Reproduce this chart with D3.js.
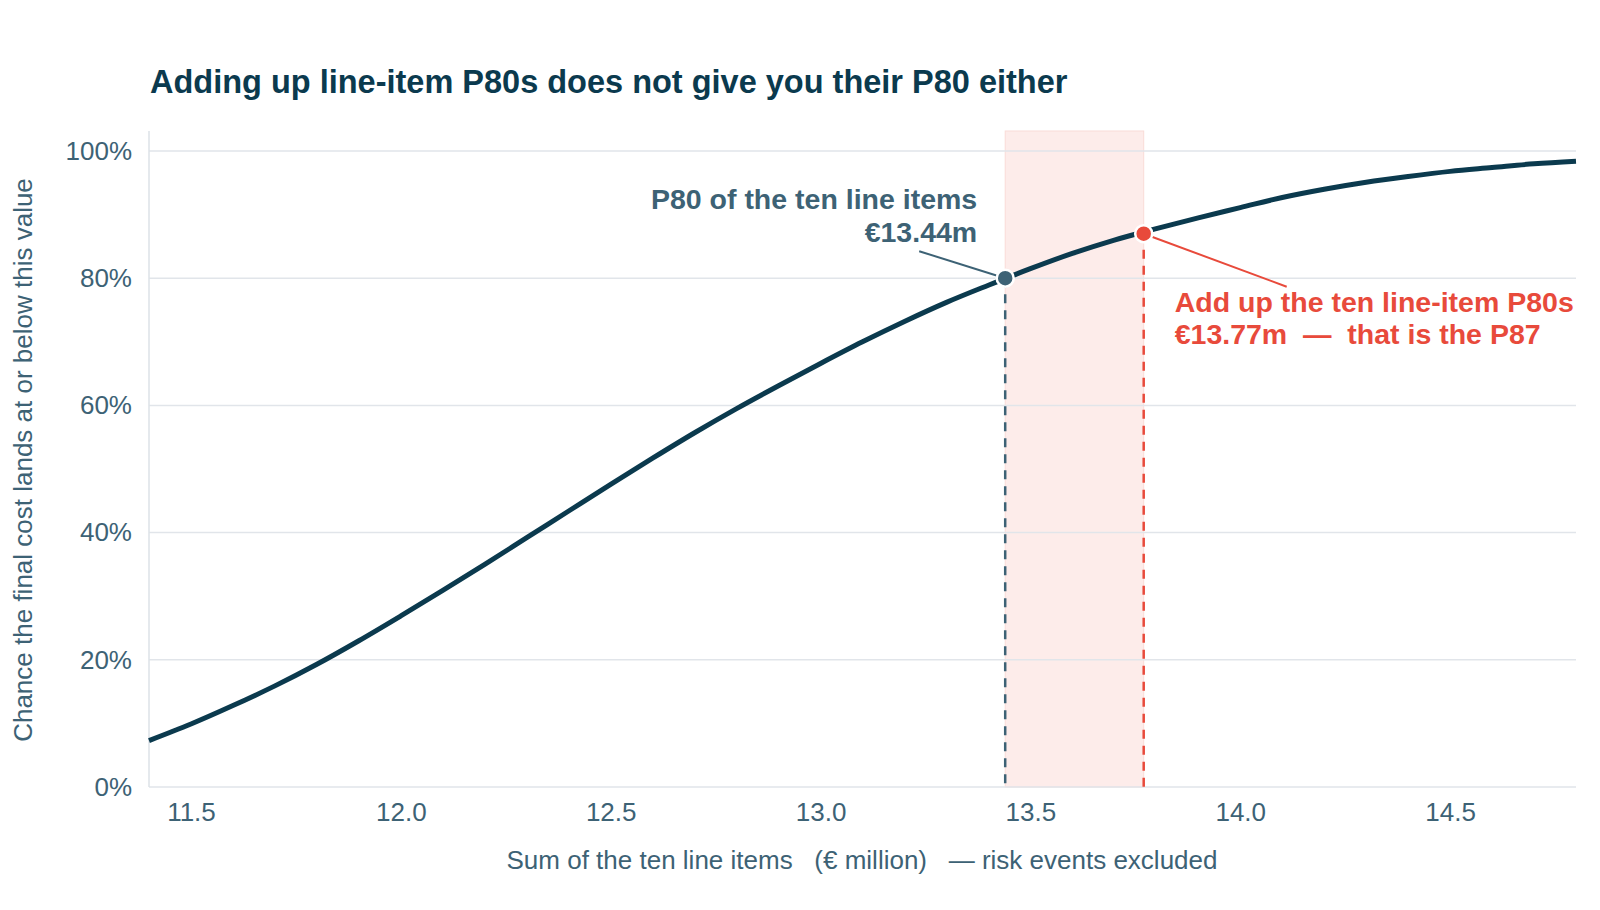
<!DOCTYPE html>
<html>
<head>
<meta charset="utf-8">
<script src="https://cdn.jsdelivr.net/npm/d3@7"></script>
<style>
  body { margin: 0; background: #fff; }
  svg text { font-family: "Liberation Sans", Arial, sans-serif; }
</style>
</head>
<body>
<div class="cdf-chart"></div>
<script>
// values
const costs = [11.4, 11.5, 11.6, 11.7, 11.8, 11.9, 12.0, 12.1, 12.2, 12.3, 12.4, 12.5, 12.6, 12.7, 12.8, 12.9, 13.0, 13.1, 13.2, 13.3, 13.4, 13.5, 13.6, 13.7, 13.8, 13.9, 14.0, 14.1, 14.2, 14.3, 14.4, 14.5, 14.6, 14.7, 14.8];
const chance = [0.073, 0.099, 0.128, 0.159, 0.193, 0.230, 0.269, 0.309, 0.350, 0.392, 0.434, 0.476, 0.517, 0.557, 0.595, 0.631, 0.666, 0.700, 0.732, 0.762, 0.789, 0.815, 0.839, 0.860, 0.878, 0.895, 0.911, 0.927, 0.940, 0.951, 0.960, 0.968, 0.974, 0.980, 0.984];
const xTicks = [11.5, 12.0, 12.5, 13.0, 13.5, 14.0, 14.5];
const yTicks = [0, 0.2, 0.4, 0.6, 0.8, 1.0];
const p80True = { x: 13.44, y: 0.80 };
const p80Sum = { x: 13.77, y: 0.87 };

const slate = "#3d6275";
const navy = "#0b3a4e";
const red = "#e84a3b";

const margin = { top: 131, right: 24, bottom: 123, left: 149 },
	width = 1600 - margin.left - margin.right,
	height = 910 - margin.top - margin.bottom;

const x = d3.scaleLinear().domain([11.4, 14.8]).range([0, width]);
const y = d3.scaleLinear().domain([0, 1.0315]).range([height, 0]);

const root = d3
	.select(".cdf-chart")
	.append("svg")
	.attr("width", 1600)
	.attr("height", 910);

root.append("text")
	.attr("x", 150)
	.attr("y", 93)
	.attr("fill", navy)
	.style("font-size", "32.5px")
	.style("font-weight", "bold")
	.text("Adding up line-item P80s does not give you their P80 either");

const svg = root.append("g").attr("transform", "translate(" + margin.left + "," + margin.top + ")");

// shaded band between the two values
svg.append("rect")
	.attr("x", x(p80True.x))
	.attr("y", 0)
	.attr("width", x(p80Sum.x) - x(p80True.x))
	.attr("height", height)
	.attr("fill", "#fdecea")
	.attr("stroke", "#f9dcd8")
	.attr("stroke-width", 1);

// gridlines
svg.append("g")
	.selectAll("line")
	.data(yTicks)
	.enter()
	.append("line")
	.attr("x1", 0)
	.attr("x2", width)
	.attr("y1", (d) => y(d))
	.attr("y2", (d) => y(d))
	.attr("stroke", "#e1e5ea")
	.attr("stroke-width", 1.5);

svg.append("line")
	.attr("x1", 0)
	.attr("x2", 0)
	.attr("y1", 0)
	.attr("y2", height)
	.attr("stroke", "#dde2e7")
	.attr("stroke-width", 1.5);

// axes, text only
const yAxis = svg.append("g")
	.call(d3.axisLeft(y).tickValues(yTicks).tickSize(0).tickPadding(17).tickFormat(d3.format(".0%")));
yAxis.select(".domain").remove();
yAxis.selectAll("text").attr("fill", slate).style("font-size", "26px");

const xAxis = svg.append("g")
	.attr("transform", "translate(0," + height + ")")
	.call(d3.axisBottom(x).tickValues(xTicks).tickSize(0).tickPadding(16).tickFormat(d3.format(".1f")));
xAxis.select(".domain").remove();
xAxis.selectAll("text").attr("fill", slate).style("font-size", "26px");

// axis titles
root.append("text")
	.attr("transform", "translate(32,460) rotate(-90)")
	.attr("text-anchor", "middle")
	.attr("fill", slate)
	.style("font-size", "26px")
	.text("Chance the final cost lands at or below this value");

root.append("text")
	.attr("x", 862)
	.attr("y", 869)
	.attr("text-anchor", "middle")
	.attr("fill", slate)
	.style("font-size", "26px")
	.style("white-space", "pre")
	.text("Sum of the ten line items   (€ million)   — risk events excluded");

// dashed drop lines
svg.append("line")
	.attr("x1", x(p80True.x))
	.attr("x2", x(p80True.x))
	.attr("y1", y(p80True.y))
	.attr("y2", height)
	.attr("stroke", slate)
	.attr("stroke-width", 2.5)
	.attr("stroke-dasharray", "9,7");

svg.append("line")
	.attr("x1", x(p80Sum.x))
	.attr("x2", x(p80Sum.x))
	.attr("y1", y(p80Sum.y))
	.attr("y2", height)
	.attr("stroke", red)
	.attr("stroke-width", 2.5)
	.attr("stroke-dasharray", "9,7");

// the curve
const line = d3
	.line()
	.x((d, i) => x(costs[i]))
	.y((d) => y(d))
	.curve(d3.curveMonotoneX);

svg.append("path")
	.datum(chance)
	.attr("fill", "none")
	.attr("stroke", navy)
	.attr("stroke-width", 5)
	.attr("d", line);

// connectors
svg.append("line")
	.attr("x1", x(p80True.x) - 86)
	.attr("y1", y(p80True.y) - 27)
	.attr("x2", x(p80True.x))
	.attr("y2", y(p80True.y))
	.attr("stroke", slate)
	.attr("stroke-width", 2);

svg.append("line")
	.attr("x1", x(p80Sum.x))
	.attr("y1", y(p80Sum.y))
	.attr("x2", x(p80Sum.x) + 143)
	.attr("y2", y(p80Sum.y) + 53)
	.attr("stroke", red)
	.attr("stroke-width", 2);

// markers
svg.append("circle")
	.attr("cx", x(p80True.x))
	.attr("cy", y(p80True.y))
	.attr("r", 8.5)
	.attr("fill", slate)
	.attr("stroke", "#fff")
	.attr("stroke-width", 2.5);

svg.append("circle")
	.attr("cx", x(p80Sum.x))
	.attr("cy", y(p80Sum.y))
	.attr("r", 8.5)
	.attr("fill", red)
	.attr("stroke", "#fff")
	.attr("stroke-width", 2.5);

// annotation texts
const noteTrue = svg.append("text")
	.attr("text-anchor", "end")
	.attr("fill", slate)
	.style("font-size", "28.5px")
	.style("font-weight", "bold");
noteTrue.append("tspan")
	.attr("x", x(p80True.x) - 28)
	.attr("y", y(p80True.y) - 69)
	.text("P80 of the ten line items");
noteTrue.append("tspan")
	.attr("x", x(p80True.x) - 28)
	.attr("y", y(p80True.y) - 36)
	.text("€13.44m");

const noteSum = svg.append("text")
	.attr("fill", red)
	.style("font-size", "28.5px")
	.style("font-weight", "bold")
	.style("white-space", "pre");
noteSum.append("tspan")
	.attr("x", x(p80Sum.x) + 31)
	.attr("y", y(p80Sum.y) + 78)
	.text("Add up the ten line-item P80s");
noteSum.append("tspan")
	.attr("x", x(p80Sum.x) + 31)
	.attr("y", y(p80Sum.y) + 110)
	.text("€13.77m  —  that is the P87");
</script>
</body>
</html>
